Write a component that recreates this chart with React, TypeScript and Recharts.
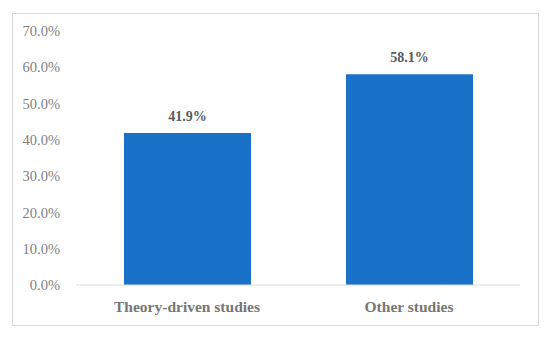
import React from 'react';
import { BarChart, Bar, XAxis, YAxis, LabelList } from 'recharts';

// Share of studies by type (%)
const categories = ['Theory-driven studies', 'Other studies'];
const shares = [41.9, 58.1];
const yTicks = [0, 10, 20, 30, 40, 50, 60, 70];

const data = categories.map((name, i) => ({ name, share: shares[i] }));

const fontFamily = '"Liberation Serif", "Times New Roman", serif';

const App = () => {
  return (
    <div
      style={{
        position: 'absolute',
        left: 12,
        top: 13,
        width: 527,
        height: 313,
        boxSizing: 'border-box',
        border: '1px solid #d9d9d9',
        background: '#fff',
      }}
    >
      <BarChart
        width={525}
        height={311}
        data={data}
        margin={{ top: 17, right: 18, left: 0, bottom: 0 }}
      >
        <XAxis
          dataKey="name"
          height={40}
          tickLine={false}
          tickSize={0}
          tickMargin={16}
          axisLine={{ stroke: '#d9d9d9' }}
          tick={{ fontSize: 15.5, fill: '#767676', fontWeight: 'bold', fontFamily }}
        />
        <YAxis
          width={63}
          domain={[0, 70]}
          ticks={yTicks}
          axisLine={false}
          tickLine={false}
          tickSize={0}
          tickMargin={16}
          tick={{ fontSize: 14.5, fill: '#7f7f7f', fontFamily }}
          tickFormatter={(v) => `${v.toFixed(1)}%`}
        />
        <Bar dataKey="share" fill="#1a72c8" barSize={127} isAnimationActive={false}>
          <LabelList
            dataKey="share"
            position="top"
            offset={12}
            formatter={(v: number) => `${v.toFixed(1)}%`}
            style={{ fontSize: 14, fill: '#595959', fontWeight: 'bold', fontFamily }}
          />
        </Bar>
      </BarChart>
    </div>
  );
};

export default App;
